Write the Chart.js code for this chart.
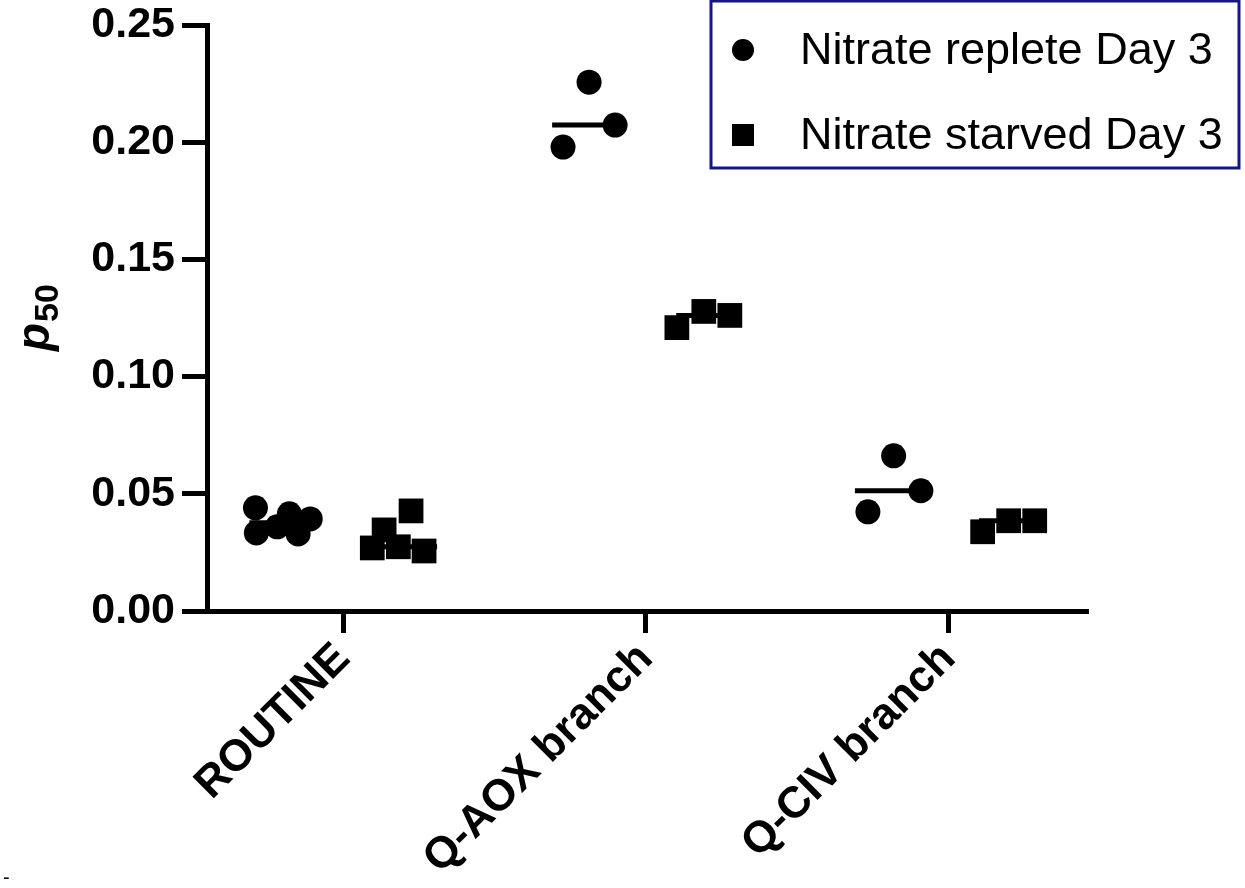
<!DOCTYPE html>
<html>
<head>
<meta charset="utf-8">
<script src="https://cdn.jsdelivr.net/npm/chart.js@4/dist/chart.umd.min.js"></script>
<style>
  html, body { margin: 0; padding: 0; background: #fff; }
  #wrap { width: 1245px; height: 888px; }
</style>
</head>
<body>
<div id="wrap"><canvas id="chart" width="1245" height="888"></canvas></div>
<script>
// categories on the x axis
var categories = ['ROUTINE', 'Q-AOX branch', 'Q-CIV branch'];
var yTicks = [0, 0.05, 0.10, 0.15, 0.20, 0.25];

// p50 values, one list per group
var repleteRoutine = [0.0440, 0.0333, 0.0359, 0.0415, 0.0329, 0.0393];
var repleteAox     = [0.1979, 0.2256, 0.2073];
var repleteCiv     = [0.0423, 0.0662, 0.0513];
var starvedRoutine = [0.0269, 0.0346, 0.0274, 0.0427, 0.0256];
var starvedAox     = [0.1209, 0.1278, 0.1261];
var starvedCiv     = [0.0338, 0.0385, 0.0385];

// horizontal scatter of each point around its category (jitter as drawn)
var repleteJitter = [
  [-0.290, -0.287, -0.218, -0.178, -0.149, -0.109],
  [-0.274, -0.188, -0.102],
  [-0.267, -0.182, -0.092]
];
var starvedJitter = [
  [0.096, 0.135, 0.182, 0.224, 0.267],
  [0.102, 0.191, 0.277],
  [0.112, 0.198, 0.284]
];

var replete = [repleteRoutine, repleteAox, repleteCiv];
var starved = [starvedRoutine, starvedAox, starvedCiv];

function median(arr) {
  var s = arr.slice().sort(function (a, b) { return a - b; });
  var m = Math.floor(s.length / 2);
  return s.length % 2 ? s[m] : (s[m - 1] + s[m]) / 2;
}

function toPoints(groups, jitter) {
  var pts = [];
  groups.forEach(function (vals, i) {
    vals.forEach(function (v, j) {
      pts.push({ x: i + jitter[i][j], y: v });
    });
  });
  return pts;
}

// median bar for each group, drawn as its own short line dataset
function medianLines(groups, from, to) {
  return groups.map(function (vals, i) {
    var m = median(vals);
    return {
      type: 'line',
      label: '_median',
      data: [{ x: i + from, y: m }, { x: i + to, y: m }],
      borderColor: '#000',
      borderWidth: 5,
      pointRadius: 0,
      showLine: true,
      fill: false,
      order: 2
    };
  });
}

var datasets = [
  {
    label: 'Nitrate replete Day 3',
    data: toPoints(replete, repleteJitter),
    pointStyle: 'circle',
    pointRadius: 12.5,
    pointBorderWidth: 0,
    backgroundColor: '#000',
    borderColor: '#000',
    order: 1
  },
  {
    label: 'Nitrate starved Day 3',
    data: toPoints(starved, starvedJitter),
    pointStyle: 'rect',
    pointRadius: 17.5,
    pointBorderWidth: 0,
    backgroundColor: '#000',
    borderColor: '#000',
    order: 1
  }
].concat(medianLines(replete, -0.31, -0.10))
 .concat(medianLines(starved, 0.10, 0.31));

// boxed legend in the top right corner, plus the p50 axis title
var extras = {
  id: 'extras',
  afterDraw: function (chart) {
    var ctx = chart.ctx;
    var area = chart.chartArea;
    ctx.save();

    // legend
    var bx = area.right - 377, by = 1, bw = 528, bh = 167;
    ctx.strokeStyle = '#15158a';
    ctx.lineWidth = 3;
    ctx.strokeRect(bx, by, bw, bh);
    var rows = chart.data.datasets.filter(function (d) { return d.label[0] !== '_'; });
    ctx.fillStyle = '#000';
    ctx.font = '45px "Liberation Sans", Arial, sans-serif';
    ctx.textBaseline = 'middle';
    ctx.textAlign = 'left';
    rows.forEach(function (d, i) {
      var cy = by + 49 + i * 85;
      var cx = bx + 32;
      if (d.pointStyle === 'rect') {
        ctx.fillRect(cx - 11, cy - 11, 22, 22);
      } else {
        ctx.beginPath();
        ctx.arc(cx, cy, 11, 0, Math.PI * 2);
        ctx.fill();
      }
      ctx.fillText(d.label, bx + 89, cy + 2);
    });

    // y axis title: italic p with subscript 50
    ctx.translate(area.left - 158, (area.top + area.bottom) / 2 + 33);
    ctx.rotate(-Math.PI / 2);
    ctx.textBaseline = 'alphabetic';
    ctx.font = 'italic bold 46px "Liberation Sans", Arial, sans-serif';
    ctx.fillText('p', 0, 0);
    var pw = ctx.measureText('p').width;
    ctx.font = 'bold 34px "Liberation Sans", Arial, sans-serif';
    ctx.fillText('50', pw + 1, 9);

    ctx.restore();

    // stray dash in the bottom left corner of the original
    ctx.save();
    ctx.fillStyle = '#000';
    ctx.font = '20px "Liberation Sans", Arial, sans-serif';
    ctx.fillText('-', 3, 884);
    ctx.restore();
  }
};

var yFont = { family: '"Liberation Sans", Arial, sans-serif', size: 43, weight: 'bold' };
var xFont = { family: '"Liberation Sans", Arial, sans-serif', size: 44, weight: 'bold' };

new Chart(document.getElementById('chart'), {
  type: 'scatter',
  data: { datasets: datasets },
  plugins: [extras],
  options: {
    responsive: false,
    animation: false,
    layout: { padding: { top: 25, right: 157, left: 0, bottom: 0 } },
    plugins: {
      legend: { display: false },
      tooltip: { enabled: false }
    },
    scales: {
      x: {
        type: 'linear',
        min: -0.45,
        max: 2.46,
        afterBuildTicks: function (scale) {
          scale.ticks = categories.map(function (c, i) { return { value: i }; });
        },
        afterFit: function (scale) {
          scale.height = 277;
          scale.paddingLeft = 0;
          scale.paddingRight = 0;
        },
        ticks: {
          autoSkip: false,
          maxRotation: 45,
          minRotation: 45,
          padding: 0,
          color: '#000',
          font: xFont,
          callback: function (v) { return categories[v]; }
        },
        grid: {
          drawOnChartArea: false,
          drawTicks: true,
          tickLength: 22,
          tickWidth: 5,
          tickColor: '#000'
        },
        border: { display: true, color: '#000', width: 5 }
      },
      y: {
        min: 0,
        max: 0.25,
        afterBuildTicks: function (scale) {
          scale.ticks = yTicks.map(function (v) { return { value: v }; });
        },
        afterFit: function (scale) {
          scale.width = 207;
          scale.paddingTop = 0;
          scale.paddingBottom = 0;
        },
        ticks: {
          padding: 7,
          color: '#000',
          font: yFont,
          callback: function (v) { return v.toFixed(2); }
        },
        grid: {
          drawOnChartArea: false,
          drawTicks: true,
          tickLength: 25,
          tickWidth: 5,
          tickColor: '#000'
        },
        border: { display: true, color: '#000', width: 5 }
      }
    }
  }
});
</script>
</body>
</html>
